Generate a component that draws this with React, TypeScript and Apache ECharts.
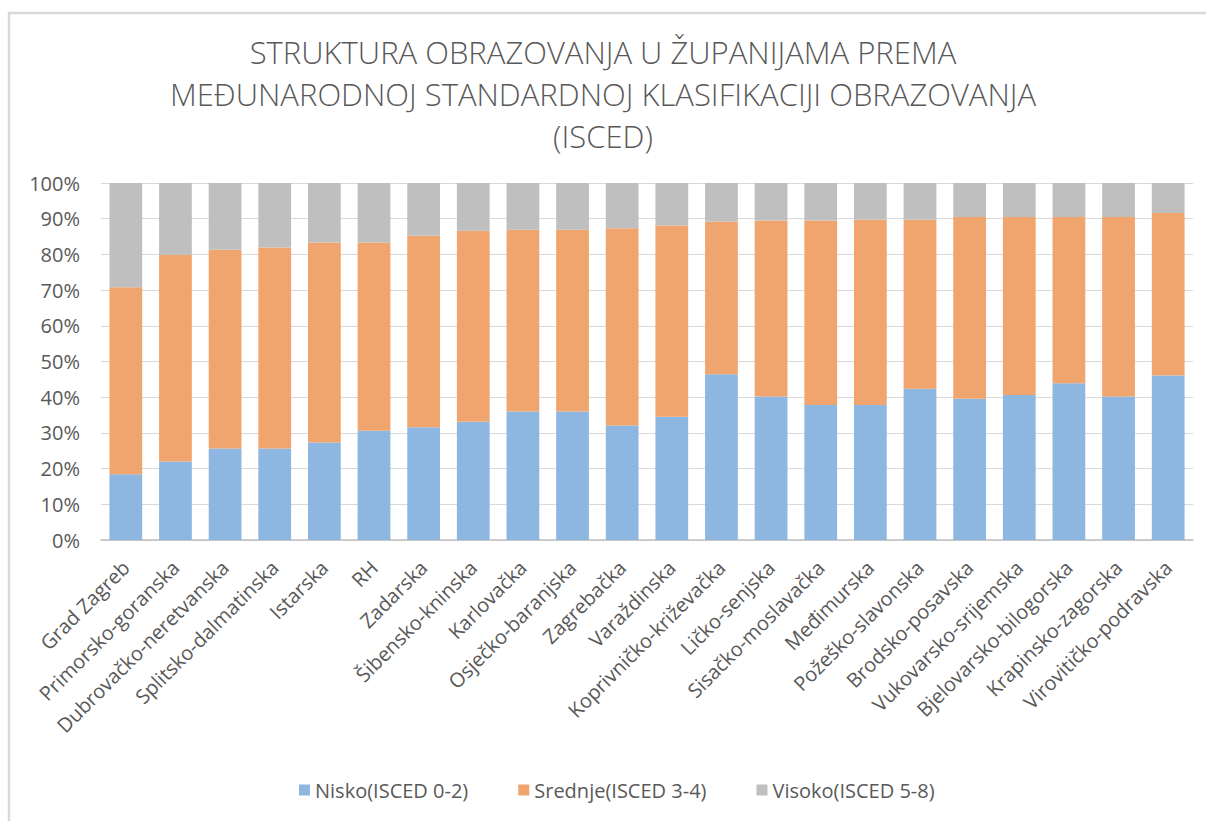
import React, { useEffect, useRef } from "react";
import * as echarts from "echarts";

const categories = [
  "Grad Zagreb", "Primorsko-goranska", "Dubrovačko-neretvanska", "Splitsko-dalmatinska",
  "Istarska", "RH", "Zadarska", "Šibensko-kninska", "Karlovačka", "Osječko-baranjska",
  "Zagrebačka", "Varaždinska", "Koprivničko-križevačka", "Ličko-senjska", "Sisačko-moslavačka",
  "Međimurska", "Požeško-slavonska", "Brodsko-posavska", "Vukovarsko-srijemska",
  "Bjelovarsko-bilogorska", "Krapinsko-zagorska", "Virovitičko-podravska",
];

// shares in %
const nisko = [18.4, 22.0, 25.6, 25.6, 27.3, 30.6, 31.6, 33.1, 36.0, 36.0, 32.1, 34.5, 46.4, 40.2, 37.8, 37.8, 42.4, 39.6, 40.6, 43.9, 40.2, 46.1];
const srednje = [52.4, 57.8, 55.7, 56.3, 56.0, 52.7, 53.6, 53.5, 50.9, 50.9, 55.2, 53.6, 42.8, 49.3, 51.7, 51.9, 47.3, 50.9, 49.9, 46.6, 50.3, 45.5];
const visoko = [29.2, 20.2, 18.7, 18.1, 16.7, 16.7, 14.8, 13.4, 13.1, 13.1, 12.7, 11.9, 10.8, 10.5, 10.5, 10.3, 10.3, 9.5, 9.5, 9.5, 9.5, 8.4];

const seriesNames = ["Nisko(ISCED 0-2)", "Srednje(ISCED 3-4)", "Visoko(ISCED 5-8)"];
const titleText = "STRUKTURA OBRAZOVANJA U ŽUPANIJAMA PREMA\nMEĐUNARODNOJ STANDARDNOJ KLASIFIKACIJI OBRAZOVANJA\n(ISCED)";

const FONT = "'Open Sans', sans-serif";
const TEXT = "#595959";

export default function App() {
  const ref = useRef<HTMLDivElement>(null);
  useEffect(() => {
    const chart = echarts.init(ref.current!, null, { renderer: "svg" });
    const colors = ["#8DB7E0", "#F0A46E", "#BFBFBF"];
    const data = [nisko, srednje, visoko];
    chart.setOption({
      animation: false,
      textStyle: { fontFamily: FONT },
      title: {
        text: titleText,
        left: "center",
        top: 26,
        textStyle: { fontFamily: FONT, fontSize: 31, fontWeight: 300, color: TEXT, lineHeight: 42 },
      },
      legend: {
        bottom: 16,
        left: 294,
        itemWidth: 11,
        itemHeight: 11,
        itemGap: 50,
        icon: "rect",
        textStyle: { fontFamily: FONT, fontSize: 20, color: TEXT },
        data: seriesNames,
      },
      grid: { left: 101, right: 13, top: 183, bottom: 281, containLabel: false },
      xAxis: {
        type: "category",
        data: categories,
        axisTick: { show: false },
        axisLine: { lineStyle: { color: "#BFBFBF", width: 1.5 } },
        axisLabel: { rotate: 45, fontFamily: FONT, fontSize: 20, color: TEXT, margin: 24, interval: 0 },
      },
      yAxis: {
        type: "value",
        min: 0,
        max: 100,
        interval: 10,
        axisLine: { show: false },
        axisTick: { show: false },
        splitLine: { lineStyle: { color: "#D9D9D9", width: 1 } },
        axisLabel: { formatter: "{value}%", fontFamily: FONT, fontSize: 20, color: TEXT, margin: 21 },
      },
      series: seriesNames.map((name, i) => ({
        name,
        type: "bar",
        stack: "total",
        barWidth: "66%",
        data: data[i],
        itemStyle: { color: colors[i] },
      })),
      graphic: [
        {
          type: "line",
          shape: { x1: 8, y1: 13, x2: 1206, y2: 13 },
          style: { stroke: "#D9D9D9", lineWidth: 2.5 },
          silent: true,
        },
        {
          type: "line",
          shape: { x1: 9, y1: 12, x2: 9, y2: 821 },
          style: { stroke: "#D9D9D9", lineWidth: 2.5 },
          silent: true,
        },
      ],
    });
    return () => chart.dispose();
  }, []);
  return <div ref={ref} style={{ width: 1206, height: 821, position: "absolute", left: 0, top: 0 }} />;
}
